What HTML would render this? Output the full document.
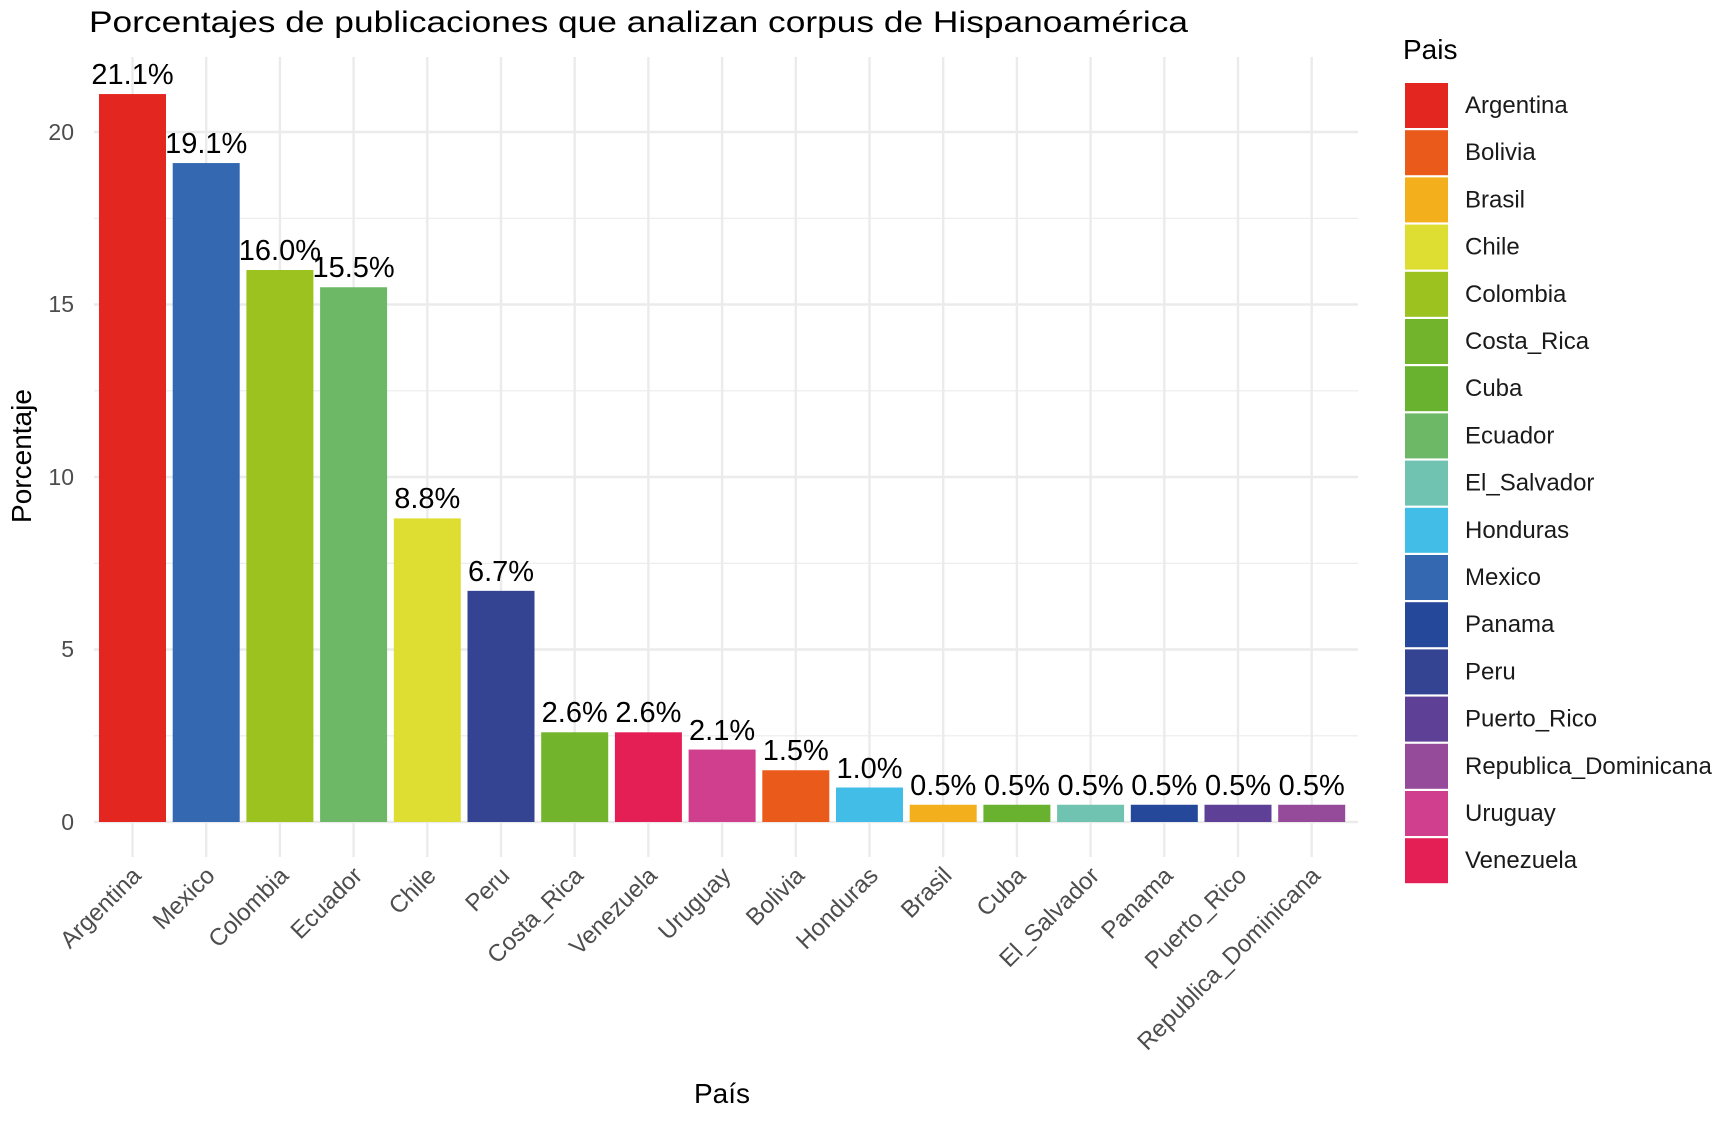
<!DOCTYPE html>
<html><head><meta charset="utf-8"><style>
html,body{margin:0;padding:0;background:#fff;}
svg{display:block;font-family:"Liberation Sans",Arial,sans-serif;}
</style></head><body>
<svg width="1728" height="1125" viewBox="0 0 1728 1125" xmlns="http://www.w3.org/2000/svg">
<rect width="1728" height="1125" fill="#fff"/>
<text x="89" y="32" font-size="30" fill="#000" textLength="1099" lengthAdjust="spacingAndGlyphs">Porcentajes de publicaciones que analizan corpus de Hispanoamérica</text>
<g stroke="#ebebeb">
<g stroke-width="1.2">
<line x1="94" x2="1358" y1="735.8" y2="735.8"/><line x1="94" x2="1358" y1="563.3" y2="563.3"/><line x1="94" x2="1358" y1="390.8" y2="390.8"/><line x1="94" x2="1358" y1="218.3" y2="218.3"/>
</g>
<g stroke-width="2.4">
<line x1="94" x2="1358" y1="822" y2="822"/><line x1="94" x2="1358" y1="649.5" y2="649.5"/><line x1="94" x2="1358" y1="477" y2="477"/><line x1="94" x2="1358" y1="304.5" y2="304.5"/><line x1="94" x2="1358" y1="132" y2="132"/>
<line x1="132.5" x2="132.5" y1="57" y2="857"/><line x1="206.2" x2="206.2" y1="57" y2="857"/><line x1="279.9" x2="279.9" y1="57" y2="857"/><line x1="353.6" x2="353.6" y1="57" y2="857"/><line x1="427.3" x2="427.3" y1="57" y2="857"/><line x1="501" x2="501" y1="57" y2="857"/><line x1="574.7" x2="574.7" y1="57" y2="857"/><line x1="648.4" x2="648.4" y1="57" y2="857"/><line x1="722.1" x2="722.1" y1="57" y2="857"/><line x1="795.8" x2="795.8" y1="57" y2="857"/><line x1="869.5" x2="869.5" y1="57" y2="857"/><line x1="943.2" x2="943.2" y1="57" y2="857"/><line x1="1016.9" x2="1016.9" y1="57" y2="857"/><line x1="1090.6" x2="1090.6" y1="57" y2="857"/><line x1="1164.3" x2="1164.3" y1="57" y2="857"/><line x1="1238" x2="1238" y1="57" y2="857"/><line x1="1311.7" x2="1311.7" y1="57" y2="857"/>
</g>
</g>
<g font-size="23" fill="#4d4d4d" text-anchor="end">
<text x="74" y="830">0</text><text x="74" y="657">5</text><text x="74" y="485">10</text><text x="74" y="312">15</text><text x="74" y="140">20</text>
</g>
<g>
<rect x="99" y="94.05" width="67" height="727.95" fill="#e3261f"/>
<rect x="172.7" y="163.05" width="67" height="658.95" fill="#3468b0"/>
<rect x="246.4" y="270" width="67" height="552" fill="#9bc21f"/>
<rect x="320.1" y="287.25" width="67" height="534.75" fill="#6cb866"/>
<rect x="393.8" y="518.4" width="67" height="303.6" fill="#dede32"/>
<rect x="467.5" y="590.85" width="67" height="231.15" fill="#354393"/>
<rect x="541.2" y="732.3" width="67" height="89.7" fill="#72b42c"/>
<rect x="614.9" y="732.3" width="67" height="89.7" fill="#e31f55"/>
<rect x="688.6" y="749.55" width="67" height="72.45" fill="#cf3f8e"/>
<rect x="762.3" y="770.25" width="67" height="51.75" fill="#ea5a1b"/>
<rect x="836" y="787.5" width="67" height="34.5" fill="#41bde8"/>
<rect x="909.7" y="804.75" width="67" height="17.25" fill="#f4af1c"/>
<rect x="983.4" y="804.75" width="67" height="17.25" fill="#68b22f"/>
<rect x="1057.1" y="804.75" width="67" height="17.25" fill="#6fc3b0"/>
<rect x="1130.8" y="804.75" width="67" height="17.25" fill="#26489a"/>
<rect x="1204.5" y="804.75" width="67" height="17.25" fill="#5e4096"/>
<rect x="1278.2" y="804.75" width="67" height="17.25" fill="#964a9a"/>
</g>
<g font-size="29" text-anchor="middle" fill="#000">
<text x="132.5" y="84">21.1%</text>
<text x="206.2" y="153">19.1%</text>
<text x="279.9" y="260">16.0%</text>
<text x="353.6" y="277">15.5%</text>
<text x="427.3" y="508">8.8%</text>
<text x="501" y="581">6.7%</text>
<text x="574.7" y="722">2.6%</text>
<text x="648.4" y="722">2.6%</text>
<text x="722.1" y="740">2.1%</text>
<text x="795.8" y="760">1.5%</text>
<text x="869.5" y="778">1.0%</text>
<text x="943.2" y="795">0.5%</text>
<text x="1016.9" y="795">0.5%</text>
<text x="1090.6" y="795">0.5%</text>
<text x="1164.3" y="795">0.5%</text>
<text x="1238" y="795">0.5%</text>
<text x="1311.7" y="795">0.5%</text>
</g>
<g font-size="24" text-anchor="end" fill="#4d4d4d">
<text transform="translate(142.5,877) rotate(-45)">Argentina</text>
<text transform="translate(216.2,877) rotate(-45)">Mexico</text>
<text transform="translate(289.9,877) rotate(-45)">Colombia</text>
<text transform="translate(363.6,877) rotate(-45)">Ecuador</text>
<text transform="translate(437.3,877) rotate(-45)">Chile</text>
<text transform="translate(511,877) rotate(-45)">Peru</text>
<text transform="translate(584.7,877) rotate(-45)">Costa_Rica</text>
<text transform="translate(658.4,877) rotate(-45)">Venezuela</text>
<text transform="translate(732.1,877) rotate(-45)">Uruguay</text>
<text transform="translate(805.8,877) rotate(-45)">Bolivia</text>
<text transform="translate(879.5,877) rotate(-45)">Honduras</text>
<text transform="translate(953.2,877) rotate(-45)">Brasil</text>
<text transform="translate(1026.9,877) rotate(-45)">Cuba</text>
<text transform="translate(1100.6,877) rotate(-45)">El_Salvador</text>
<text transform="translate(1174.3,877) rotate(-45)">Panama</text>
<text transform="translate(1248,877) rotate(-45)">Puerto_Rico</text>
<text transform="translate(1321.7,877) rotate(-45)">Republica_Dominicana</text>
</g>
<text x="722" y="1103" font-size="28" text-anchor="middle" fill="#000">País</text>
<text transform="translate(31,456) rotate(-90)" font-size="28" text-anchor="middle" fill="#000">Porcentaje</text>
<text x="1403" y="59" font-size="28" fill="#000">Pais</text>
<g>
<rect x="1405" y="83" width="43" height="45" fill="#e3261f"/>
<rect x="1405" y="130.2" width="43" height="45" fill="#ea5a1b"/>
<rect x="1405" y="177.4" width="43" height="45" fill="#f4af1c"/>
<rect x="1405" y="224.6" width="43" height="45" fill="#dede32"/>
<rect x="1405" y="271.8" width="43" height="45" fill="#9bc21f"/>
<rect x="1405" y="319" width="43" height="45" fill="#72b42c"/>
<rect x="1405" y="366.2" width="43" height="45" fill="#68b22f"/>
<rect x="1405" y="413.4" width="43" height="45" fill="#6cb866"/>
<rect x="1405" y="460.6" width="43" height="45" fill="#6fc3b0"/>
<rect x="1405" y="507.8" width="43" height="45" fill="#41bde8"/>
<rect x="1405" y="555" width="43" height="45" fill="#3468b0"/>
<rect x="1405" y="602.2" width="43" height="45" fill="#26489a"/>
<rect x="1405" y="649.4" width="43" height="45" fill="#354393"/>
<rect x="1405" y="696.6" width="43" height="45" fill="#5e4096"/>
<rect x="1405" y="743.8" width="43" height="45" fill="#964a9a"/>
<rect x="1405" y="791" width="43" height="45" fill="#cf3f8e"/>
<rect x="1405" y="838.2" width="43" height="45" fill="#e31f55"/>
</g>
<g font-size="24" fill="#1a1a1a">
<text x="1465" y="113">Argentina</text>
<text x="1465" y="160.2">Bolivia</text>
<text x="1465" y="207.4">Brasil</text>
<text x="1465" y="254.6">Chile</text>
<text x="1465" y="301.8">Colombia</text>
<text x="1465" y="349">Costa_Rica</text>
<text x="1465" y="396.2">Cuba</text>
<text x="1465" y="443.4">Ecuador</text>
<text x="1465" y="490.6">El_Salvador</text>
<text x="1465" y="537.8">Honduras</text>
<text x="1465" y="585">Mexico</text>
<text x="1465" y="632.2">Panama</text>
<text x="1465" y="679.4">Peru</text>
<text x="1465" y="726.6">Puerto_Rico</text>
<text x="1465" y="773.8">Republica_Dominicana</text>
<text x="1465" y="821">Uruguay</text>
<text x="1465" y="868.2">Venezuela</text>
</g>
</svg>
</body></html>
